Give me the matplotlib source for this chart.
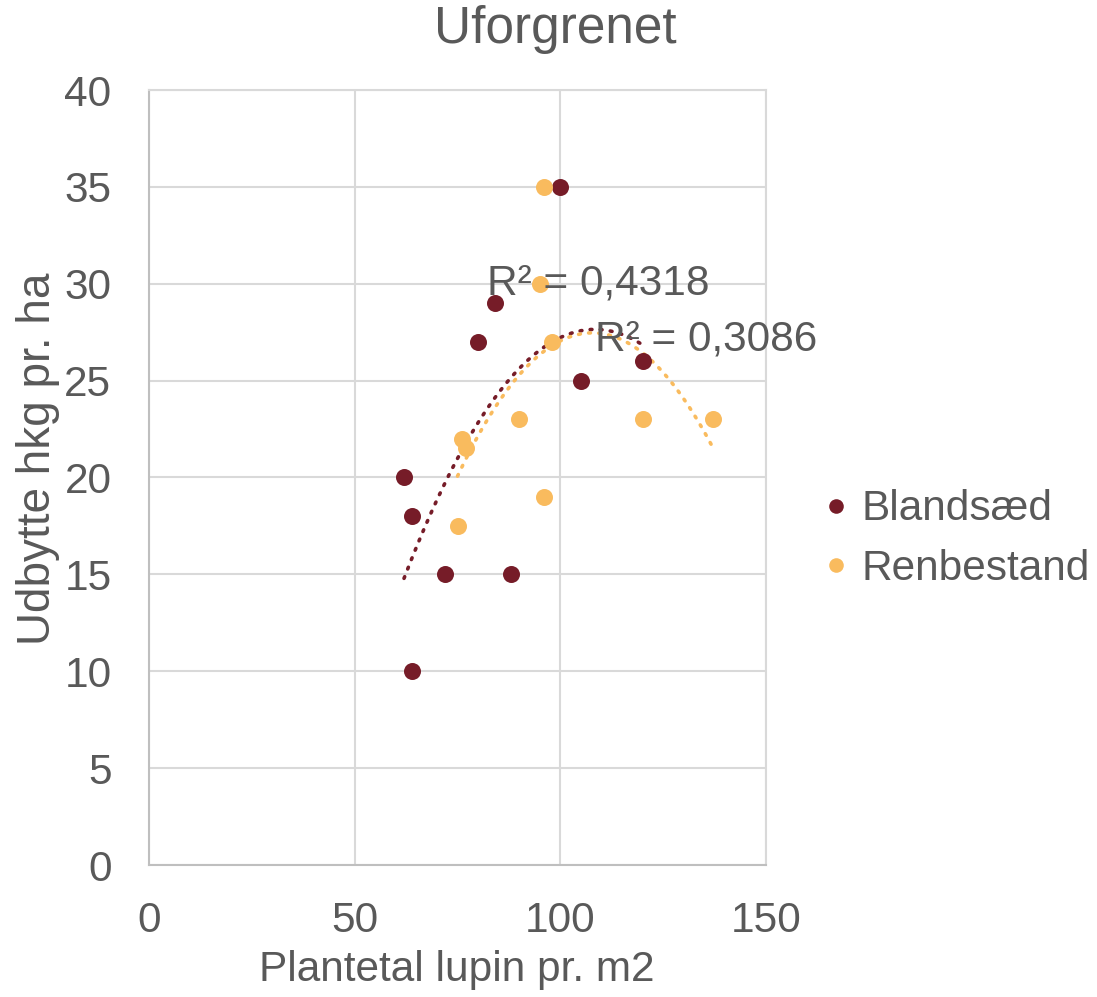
import numpy as np
import matplotlib
matplotlib.use("Agg")
import matplotlib.pyplot as plt
from matplotlib.lines import Line2D

# Data: plant count (lupin per m2) vs. yield (hkg per ha)
blandsaed_x = [100, 84, 80, 105, 120, 62, 64, 72, 88, 64]
blandsaed_y = [35, 29, 27, 25, 26, 20, 18, 15, 15, 10]

renbestand_x = [96, 95, 98, 90, 120, 137, 76, 77, 96, 75]
renbestand_y = [35, 30, 27, 23, 23, 23, 22, 21.5, 19, 17.5]

series_names = ["Blandsæd", "Renbestand"]
r2_labels = ["R² = 0,4318", "R² = 0,3086"]

x_ticks = [0, 50, 100, 150]
y_ticks = [0, 5, 10, 15, 20, 25, 30, 35, 40]

title = "Uforgrenet"
x_label = "Plantetal lupin pr. m2"
y_label = "Udbytte hkg pr. ha"

dark_red = "#761C28"
orange = "#F9BB5E"
text_col = "#595959"
grid_col = "#D9D9D9"

plt.rcParams["font.family"] = ["Liberation Sans", "DejaVu Sans"]

fig = plt.figure(figsize=(10.97, 9.97), dpi=100)
ax = fig.add_axes([149 / 1097, 1 - 865 / 997, (766 - 149) / 1097, (865 - 90) / 997])

ax.set_xlim(0, 150)
ax.set_ylim(0, 40)
ax.set_xticks(x_ticks)
ax.set_yticks(y_ticks)
ax.grid(True, color=grid_col, linewidth=1.5, zorder=0)
ax.set_axisbelow(True)
for side in ["top", "right"]:
    ax.spines[side].set_color(grid_col)
    ax.spines[side].set_linewidth(1.5)
for side in ["left", "bottom"]:
    ax.spines[side].set_color("#BFBFBF")
    ax.spines[side].set_linewidth(1.5)
ax.tick_params(length=0, labelsize=30.5, labelcolor=text_col)
ax.tick_params(axis="x", pad=26)
ax.tick_params(axis="y", pad=27)

# Second-order polynomial trendlines across each series' x range
for xs, ys, col in [(blandsaed_x, blandsaed_y, dark_red),
                    (renbestand_x, renbestand_y, orange)]:
    xs = np.asarray(xs, float)
    ys = np.asarray(ys, float)
    coef = np.polyfit(xs, ys, 2)
    xx = np.linspace(xs.min(), xs.max(), 200)
    ax.plot(xx, np.polyval(coef, xx), color=col, linewidth=2.6,
            linestyle=(0, (0.5, 2.3)), dash_capstyle="round", zorder=2)

ax.scatter(blandsaed_x, blandsaed_y, s=150, color=dark_red, linewidths=0, zorder=3)
ax.scatter(renbestand_x, renbestand_y, s=150, color=orange, linewidths=0, zorder=3)

ax.text(82.2, 30.0, r2_labels[0], fontsize=30.5, color=text_col, va="center", ha="left", zorder=4)
ax.text(108.4, 27.1, r2_labels[1], fontsize=30.5, color=text_col, va="center", ha="left", zorder=4)

fig.text(555 / 1097, 1 - 30 / 997, title, fontsize=37, color=text_col, ha="center", va="center")
fig.text(457 / 1097, 1 - 970 / 997, x_label, fontsize=30.5, color=text_col, ha="center", va="center")
fig.text(38 / 1097, 1 - 459 / 997, y_label, fontsize=33, color=text_col, ha="center", va="center",
         rotation=90)

handles = [Line2D([], [], marker="o", linestyle="none", markersize=10.5, color=dark_red, markeredgewidth=0),
           Line2D([], [], marker="o", linestyle="none", markersize=10.5, color=orange, markeredgewidth=0)]
leg = fig.legend(handles, series_names, loc="center left",
                 bbox_to_anchor=(828 / 1097, 1 - 539 / 997), frameon=False,
                 fontsize=30.5, handlelength=0.4, handletextpad=0.4, labelspacing=0.45,
                 borderaxespad=0, borderpad=0)
for t in leg.get_texts():
    t.set_color(text_col)

fig.savefig("out.png", dpi=100)
